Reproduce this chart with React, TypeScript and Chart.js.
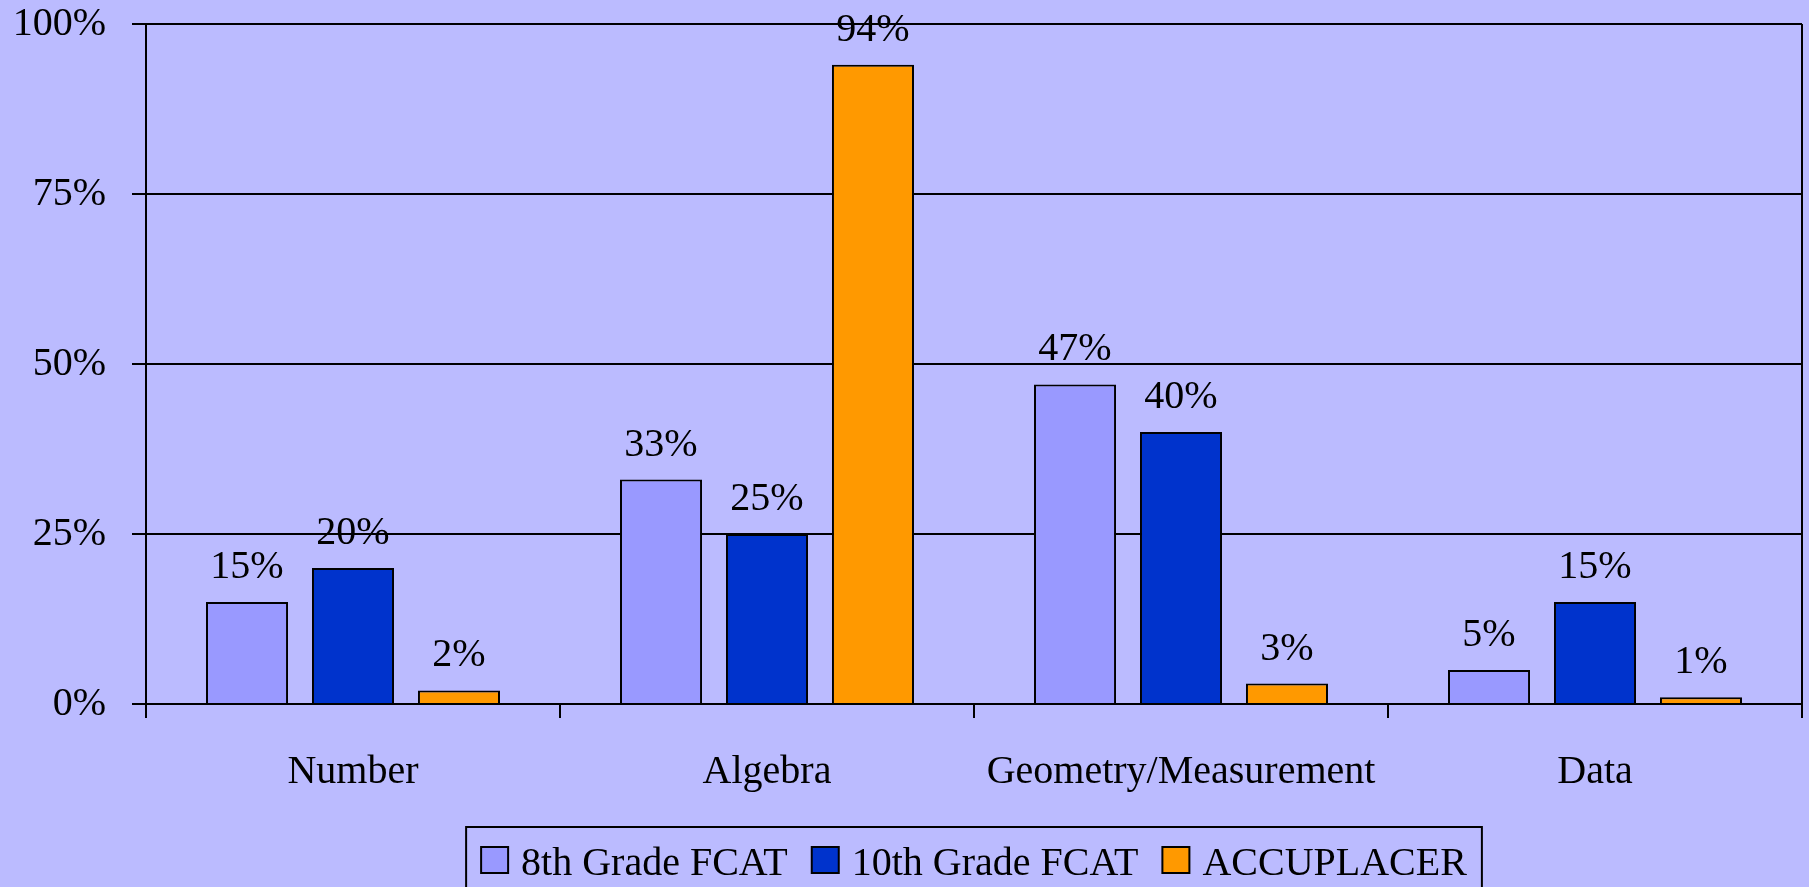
import React, { useEffect, useRef } from "react";
import { Chart, registerables } from "chart.js";

Chart.register(...registerables);

const categories = ["Number", "Algebra", "Geometry/Measurement", "Data"];
const seriesNames = ["8th Grade FCAT", "10th Grade FCAT", "ACCUPLACER"];
const grade8 = [15, 33, 47, 5];
const grade10 = [20, 25, 40, 15];
const accuplacer = [2, 94, 3, 1];
const yTicks = [0, 25, 50, 75, 100];

const colors = ["#9999FF", "#0033CC", "#FF9900"];
const BG = "#BBBBFF";
const FONT = "'Liberation Serif', 'Times New Roman', serif";

const W = 1809;
const H = 887;

export default function App() {
  const ref = useRef<HTMLCanvasElement | null>(null);

  useEffect(() => {
    document.body.style.margin = "0";
    document.body.style.background = BG;
    const canvas = ref.current;
    if (!canvas) return;

    const rightBorder = {
      id: "rightBorder",
      afterDatasetsDraw(chart: any) {
        const { ctx, chartArea } = chart;
        ctx.save();
        ctx.strokeStyle = "#000";
        ctx.lineWidth = 2;
        ctx.beginPath();
        ctx.moveTo(chartArea.right, chartArea.top);
        ctx.lineTo(chartArea.right, chartArea.bottom);
        ctx.stroke();
        ctx.restore();
      },
    };

    const valueLabels = {
      id: "valueLabels",
      afterDatasetsDraw(chart: any) {
        const { ctx } = chart;
        ctx.save();
        ctx.font = `40px ${FONT}`;
        ctx.fillStyle = "#000";
        ctx.textAlign = "center";
        ctx.textBaseline = "alphabetic";
        chart.data.datasets.forEach((ds: any, i: number) => {
          const meta = chart.getDatasetMeta(i);
          meta.data.forEach((el: any, j: number) => {
            ctx.fillText(`${ds.data[j]}%`, el.x, el.y - 24);
          });
        });
        ctx.restore();
      },
    };

    const customLegend = {
      id: "customLegend",
      afterDraw(chart: any) {
        const { ctx, chartArea } = chart;
        ctx.save();
        ctx.font = `40px ${FONT}`;
        const marker = 27;
        const gapText = 13;
        const gapItem = 24;
        const pad = 15;
        const widths = seriesNames.map((n) => ctx.measureText(n).width);
        let inner = 0;
        widths.forEach((w, i) => {
          inner += marker + gapText + w + (i < widths.length - 1 ? gapItem : 0);
        });
        const boxW = inner + pad * 2;
        const cx = (chartArea.left + chartArea.right) / 2;
        const boxL = cx - boxW / 2;
        const boxT = 827;
        ctx.strokeStyle = "#000";
        ctx.lineWidth = 2;
        ctx.strokeRect(boxL, boxT, boxW, 120);
        let x = boxL + pad;
        ctx.textAlign = "left";
        ctx.textBaseline = "alphabetic";
        seriesNames.forEach((n, i) => {
          ctx.fillStyle = colors[i];
          ctx.fillRect(x, 847, marker, 26);
          ctx.strokeStyle = "#000";
          ctx.lineWidth = 2;
          ctx.strokeRect(x, 847, marker, 26);
          ctx.fillStyle = "#000";
          ctx.fillText(n, x + marker + gapText, 875);
          x += marker + gapText + widths[i] + gapItem;
        });
        ctx.restore();
      },
    };

    const seriesData = [grade8, grade10, accuplacer];

    const chart = new Chart(canvas, {
      type: "bar",
      data: {
        labels: categories,
        datasets: seriesNames.map((name, i) => ({
          label: name,
          data: seriesData[i],
          backgroundColor: colors[i],
          borderColor: "#000",
          borderWidth: 2,
          categoryPercentage: 0.768,
          barPercentage: 0.774,
        })),
      },
      options: {
        responsive: false,
        animation: false,
        devicePixelRatio: 1,
        layout: { padding: { top: 24, right: 7, left: 0, bottom: 0 } },
        plugins: {
          legend: { display: false },
          tooltip: { enabled: false },
        },
        scales: {
          x: {
            grid: {
              offset: true,
              drawOnChartArea: false,
              drawTicks: true,
              tickLength: 14,
              color: "#000",
              lineWidth: 2,
            },
            border: { display: true, color: "#000", width: 2 },
            ticks: {
              color: "#000",
              font: { family: FONT, size: 40 },
              padding: 30,
              maxRotation: 0,
              autoSkip: false,
            },
            afterFit(scale: any) {
              scale.height = H - 704;
              scale.paddingLeft = 0;
              scale.paddingRight = 0;
              scale.paddingTop = 0;
              scale.paddingBottom = 0;
            },
          },
          y: {
            min: 0,
            max: 100,
            afterBuildTicks(scale: any) {
              scale.ticks = yTicks.map((v) => ({ value: v }));
            },
            grid: {
              color: "#000",
              lineWidth: 2,
              tickLength: 14,
              drawTicks: true,
            },
            border: { display: true, color: "#000", width: 2 },
            ticks: {
              color: "#000",
              font: { family: FONT, size: 40 },
              padding: 26,
              callback: (v: any) => `${v}%`,
            },
            afterFit(scale: any) {
              scale.width = 146;
              scale.paddingTop = 0;
              scale.paddingBottom = 0;
              scale.paddingLeft = 0;
              scale.paddingRight = 0;
            },
          },
        },
      },
      plugins: [rightBorder, valueLabels, customLegend],
    });

    return () => chart.destroy();
  }, []);

  return (
    <div style={{ position: "absolute", left: 0, top: 0, width: W, height: H, background: BG }}>
      <canvas ref={ref} width={W} height={H} style={{ display: "block", width: W, height: H }} />
    </div>
  );
}
